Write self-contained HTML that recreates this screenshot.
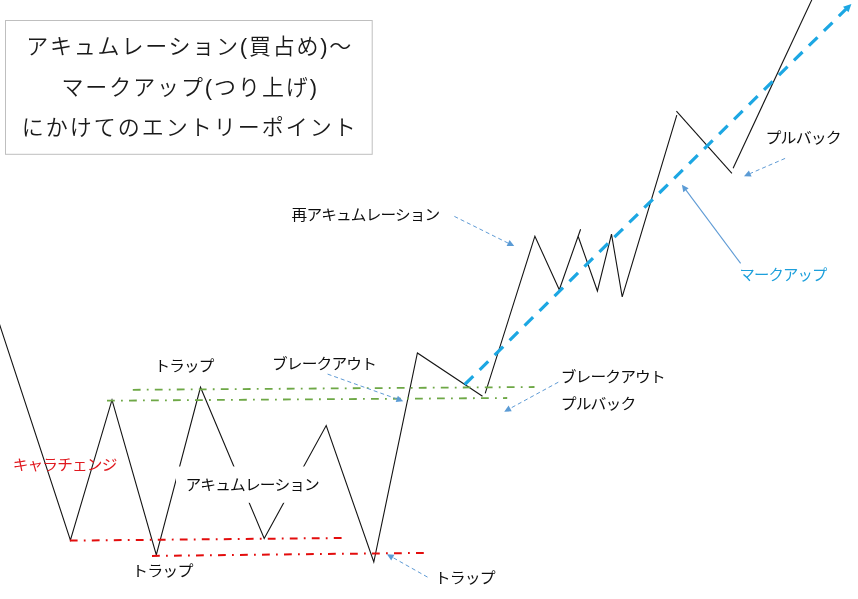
<!DOCTYPE html>
<html lang="ja">
<head>
<meta charset="utf-8">
<title>アキュムレーション〜マークアップ エントリーポイント</title>
<style>
  html, body { margin: 0; padding: 0; background: #ffffff; }
  body { width: 858px; height: 599px; overflow: hidden; position: relative; }
  svg { position: absolute; left: 0; top: 0; display: block; }
  text { font-family: "Liberation Sans", "Noto Sans CJK JP", sans-serif; }
  .lbl { font-size: 15px; letter-spacing: -0.8px; fill: #0d0d0d; font-weight: 400; }
  .ttl { font-size: 22px; letter-spacing: 2px; fill: #1a1a1a; font-weight: 350; }
  .price { stroke: #141414; stroke-width: 1.1; fill: none; stroke-linecap: butt; stroke-linejoin: miter; }
  .grn { stroke: #6ea846; stroke-width: 1.8; fill: none; stroke-dasharray: 7.8 6.2 1.8 6.2; }
  .red { stroke: #e30d0d; stroke-width: 2; fill: none; stroke-dasharray: 7.8 6.2 1.8 6.2; }
  .blu { stroke: #1ca7e3; stroke-width: 3.2; fill: none; stroke-dasharray: 12 9; }
  .arr { stroke: #5f9bd5; stroke-width: 1; fill: none; stroke-dasharray: 4 3; }
  .arrs { stroke: #5f9bd5; stroke-width: 1.1; fill: none; }
  .head { fill: #5b9bd5; stroke: none; }
</style>
</head>
<body>
<svg width="858" height="599" viewBox="0 0 858 599">
  <rect x="0" y="0" width="858" height="599" fill="#ffffff"/>

  <!-- price line -->
  <g class="price">
    <polyline points="-1,322.6 70.4,540.2 112,399.9 156.3,554.9 200.5,387.3 264.2,538.4 326.2,425.5 373.8,562 417.4,353 482.5,396.3"/>
    <polyline points="485.2,393.4 534.9,236.2 559.3,289.8 580.6,229.2"/>
    <polyline points="578.2,236.5 597.4,291 611.5,234.2 622.2,296.8 676.8,115.2"/>
    <polyline points="676.4,111.1 731.9,173.3"/>
    <polyline points="733.1,168.2 812.2,-1"/>
  </g>

  <!-- accumulation label box (white, hides the line) -->
  <rect x="176.0" y="466.5" width="151" height="36.3" fill="#ffffff"/>

  <!-- range lines -->
  <line class="grn" x1="132.8" y1="389.8" x2="534.5" y2="387"/>
  <line class="grn" x1="107" y1="400.7" x2="507.2" y2="398"/>
  <line class="red" x1="69.8" y1="540.6" x2="341.8" y2="538"/>
  <line class="red" x1="152" y1="555.9" x2="423.9" y2="552.9"/>

  <!-- mark up dashed trend arrow -->
  <line class="blu" x1="464.7" y1="384.5" x2="846" y2="9.2"/>
  <polygon points="851.4,3.9 843,6.7 848.5,12.3" fill="#1ca7e3"/>

  <!-- thin dashed pointer arrows -->
  <line class="arr" x1="454.4" y1="216.4" x2="508.1" y2="243.1"/>
  <polygon class="head" points="514.2,246.1 506.6,246.0 509.6,240.1"/>
  <line class="arr" x1="327.6" y1="374.1" x2="396.8" y2="398.9"/>
  <polygon class="head" points="403.2,401.2 395.7,402.0 397.9,395.8"/>
  <line class="arr" x1="558.3" y1="382.2" x2="510.2" y2="408.4"/>
  <polygon class="head" points="504.2,411.7 508.6,405.5 511.7,411.3"/>
  <line class="arr" x1="427.5" y1="577.1" x2="392.8" y2="557.5"/>
  <polygon class="head" points="386.9,554.2 394.4,554.7 391.2,560.4"/>
  <line class="arr" x1="785.1" y1="158.4" x2="750.2" y2="173.5"/>
  <polygon class="head" points="744.0,176.2 748.9,170.5 751.6,176.5"/>
  <line class="arrs" x1="740.6" y1="263.4" x2="686.0" y2="190.2"/>
  <polygon class="head" points="681.9,184.8 688.6,188.3 683.3,192.2"/>

  <!-- title box -->
  <rect x="5.5" y="20.5" width="366.7" height="133.8" fill="#ffffff" stroke="#bfbfbf" stroke-width="1"/>
  <text class="ttl" x="189.7" y="53.8" text-anchor="middle" style="letter-spacing:1.77px">アキュムレーション(買占め)～</text>
  <text class="ttl" x="190.2" y="94.5" text-anchor="middle" style="letter-spacing:1.9px">マークアップ(つり上げ)</text>
  <text class="ttl" x="189.8" y="134.5" text-anchor="middle" style="letter-spacing:2px">にかけてのエントリーポイント</text>

  <!-- labels -->
  <text class="lbl" x="291.6" y="219.9" textLength="147.8" lengthAdjust="spacingAndGlyphs">再アキュムレーション</text>
  <text class="lbl" x="765.5" y="143.0" textLength="75.4" lengthAdjust="spacingAndGlyphs">プルバック</text>
  <text class="lbl" x="739.4" y="279.8" textLength="87.0" lengthAdjust="spacingAndGlyphs" style="fill:#1c9fdb">マークアップ</text>
  <text class="lbl" x="154.5" y="370.5" textLength="59.1" lengthAdjust="spacingAndGlyphs">トラップ</text>
  <text class="lbl" x="272.0" y="369.3" textLength="104.1" lengthAdjust="spacingAndGlyphs">ブレークアウト</text>
  <text class="lbl" x="560.7" y="381.6" textLength="104.2" lengthAdjust="spacingAndGlyphs">ブレークアウト</text>
  <text class="lbl" x="560.7" y="409.2" textLength="74.8" lengthAdjust="spacingAndGlyphs">プルバック</text>
  <text class="lbl" x="12.7" y="469.8" textLength="103.8" lengthAdjust="spacingAndGlyphs" style="fill:#e0191f">キャラチェンジ</text>
  <text class="lbl" x="185.5" y="490.0" textLength="133.5" lengthAdjust="spacingAndGlyphs">アキュムレーション</text>
  <text class="lbl" x="132.0" y="576.0" textLength="60.6" lengthAdjust="spacingAndGlyphs">トラップ</text>
  <text class="lbl" x="434.7" y="582.5" textLength="60.1" lengthAdjust="spacingAndGlyphs">トラップ</text>
</svg>
</body>
</html>
